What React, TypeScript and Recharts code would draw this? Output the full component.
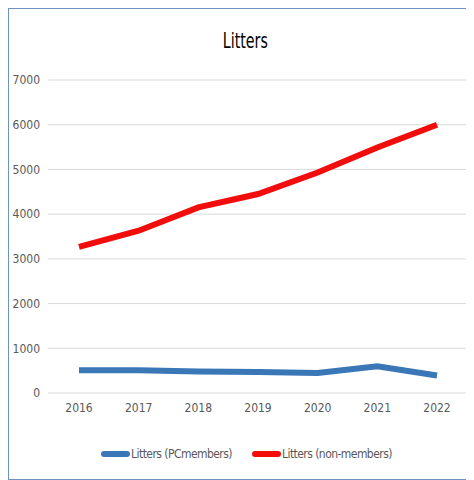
import React from "react";
import { LineChart, Line, XAxis, YAxis, CartesianGrid, Legend } from "recharts";

const years = ["2016", "2017", "2018", "2019", "2020", "2021", "2022"];
const pcMembers = [510, 510, 480, 470, 450, 600, 390];
const nonMembers = [3270, 3630, 4150, 4450, 4930, 5490, 6000];
const yTicks = [0, 1000, 2000, 3000, 4000, 5000, 6000, 7000];

const data = years.map((y, i) => ({ year: y, pc: pcMembers[i], non: nonMembers[i] }));

const FONT = "'DejaVu Sans Condensed', 'Liberation Sans Narrow', sans-serif";

const legendItems = [
  { label: "Litters (PCmembers)", color: "#3A77B7" },
  { label: "Litters (non-members)", color: "#F20C0C" },
];

const CustomLegend = () => (
  <div
    style={{
      display: "flex",
      justifyContent: "center",
      alignItems: "center",
      fontFamily: FONT,
      fontSize: 12,
      letterSpacing: "-0.55px",
      color: "#595959",
      height: 20,
      marginTop: 11,
      paddingLeft: 16,
    }}
  >
    {legendItems.map((it, i) => (
      <div key={i} style={{ display: "flex", alignItems: "center", marginRight: i === 0 ? 20 : 0 }}>
        <div style={{ width: 29, height: 6, background: it.color, borderRadius: 3, marginRight: 1 }} />
        <span>{it.label}</span>
      </div>
    ))}
  </div>
);

export default function App() {
  return (
    <div
      style={{
        position: "relative",
        width: 462,
        height: 470,
        border: "1px solid #6E93C2",
        background: "#fff",
      }}
    >
      <div
        style={{
          position: "absolute",
          top: 19,
          left: 0,
          width: 448,
          paddingLeft: 12,
          textAlign: "center",
          fontFamily: FONT,
          fontSize: 22,
          color: "#000",
        }}
      >
        <span style={{ display: "inline-block", transform: "scaleX(0.72)", transformOrigin: "center" }}>
          Litters
        </span>
      </div>
      <LineChart
        width={460}
        height={468}
        data={data}
        margin={{ top: 71, right: 1, bottom: 0, left: 0 }}
      >
        <CartesianGrid vertical={false} stroke="#D9D9D9" />
        <XAxis
          dataKey="year"
          axisLine={false}
          tickLine={false}
          tickSize={0}
          tickMargin={10}
          height={40}
          padding={{ left: 31, right: 31 }}
          tick={{ fill: "#595959", fontSize: 12, fontFamily: FONT }}
        />
        <YAxis
          domain={[0, 7000]}
          ticks={yTicks}
          axisLine={false}
          tickLine={false}
          tickSize={0}
          tickMargin={8}
          width={39}
          tick={{ fill: "#595959", fontSize: 12, fontFamily: FONT }}
        />
        <Legend verticalAlign="bottom" height={44} content={<CustomLegend />} />
        <Line
          type="linear"
          dataKey="pc"
          name="Litters (PCmembers)"
          stroke="#3A77B7"
          strokeWidth={6}
          dot={false}
          isAnimationActive={false}
        />
        <Line
          type="linear"
          dataKey="non"
          name="Litters (non-members)"
          stroke="#F20C0C"
          strokeWidth={6}
          dot={false}
          isAnimationActive={false}
        />
      </LineChart>
    </div>
  );
}
